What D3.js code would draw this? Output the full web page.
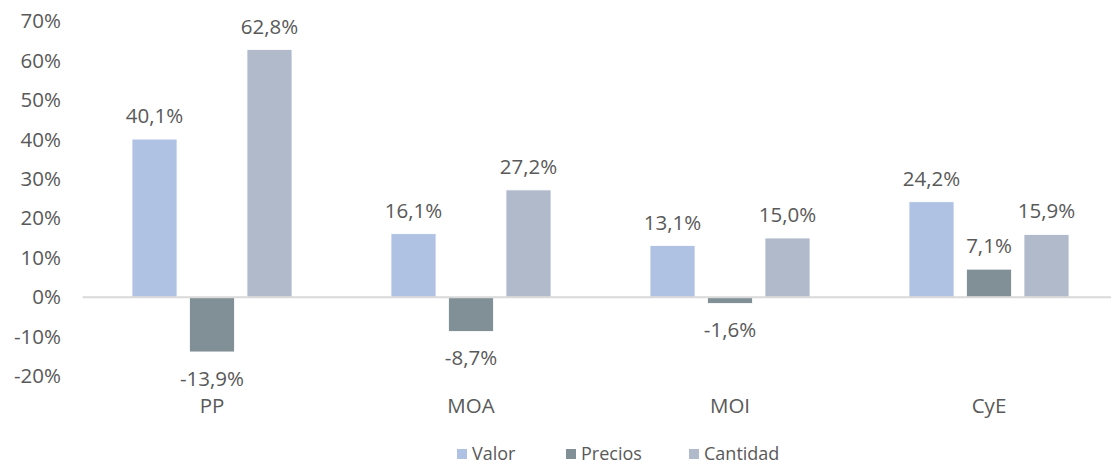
<!DOCTYPE html>
<html>
<head>
<meta charset="utf-8">
<script src="https://cdn.jsdelivr.net/npm/d3@7"></script>
<style>
  body { margin: 0; background: #fff; }
  text { font-family: "Open Sans", sans-serif; fill: #595959; }
</style>
</head>
<body>
<script>
  const categories = ['PP', 'MOA', 'MOI', 'CyE'];
  const seriesNames = ['Valor', 'Precios', 'Cantidad'];
  const valor = [40.1, 16.1, 13.1, 24.2];
  const precios = [-13.9, -8.7, -1.6, 7.1];
  const cantidad = [62.8, 27.2, 15.0, 15.9];
  const yTicks = [-20, -10, 0, 10, 20, 30, 40, 50, 60, 70];
  const colors = ['#afc2e3', '#818f96', '#b0bacb'];

  const width = 1111;
  const height = 466;

  const seriesValues = [valor, precios, cantidad];
  const rows = categories.map((c, i) => ({
    cat: c,
    vals: seriesNames.map((s, j) => ({ series: s, j, value: seriesValues[j][i] })),
  }));

  const svg = d3.select('body')
    .append('svg')
    .attr('width', width)
    .attr('height', height);

  // band per category, then sub-band per series
  const x = d3.scaleBand()
    .domain(categories)
    .range([82.5, 1118.5]);

  const xSub = d3.scaleBand()
    .domain(seriesNames)
    .range([0, 160])
    .paddingInner(0.217);

  const y = d3.scaleLinear()
    .domain([-20, 70])
    .range([376, 21.2]);

  // comma decimals, plain hyphen for negatives
  const fmt = (v) => v.toFixed(1).replace('.', ',') + '%';

  // y tick labels
  svg.append('g')
    .selectAll('text')
    .data(yTicks)
    .join('text')
    .attr('x', 61)
    .attr('y', (d) => y(d))
    .attr('dy', '0.35em')
    .attr('text-anchor', 'end')
    .style('font-size', '20.5px')
    .text((d) => d + '%');

  const groups = svg.append('g')
    .selectAll('g')
    .data(rows)
    .join('g')
    .attr('transform', (d) => `translate(${x(d.cat) + x.bandwidth() / 2 - 80},0)`);

  groups.selectAll('rect')
    .data((d) => d.vals)
    .join('rect')
    .attr('x', (d) => xSub(d.series))
    .attr('width', xSub.bandwidth())
    .attr('y', (d) => y(Math.max(0, d.value)))
    .attr('height', (d) => Math.abs(y(d.value) - y(0)))
    .attr('fill', (d) => colors[d.j])
    .attr('stroke', '#ffffff')
    .attr('stroke-width', 0.8);

  // zero line
  svg.append('line')
    .attr('x1', x.range()[0])
    .attr('x2', width)
    .attr('y1', y(0))
    .attr('y2', y(0))
    .attr('stroke', '#d9d9d9')
    .attr('stroke-width', 2);

  // value labels
  groups.selectAll('text.val')
    .data((d) => d.vals)
    .join('text')
    .attr('class', 'val')
    .attr('x', (d) => xSub(d.series) + xSub.bandwidth() / 2)
    .attr('y', (d) => d.value >= 0 ? y(d.value) - 16 : y(d.value) + 34)
    .attr('text-anchor', 'middle')
    .style('font-size', '20.5px')
    .text((d) => fmt(d.value));

  // category labels
  svg.append('g')
    .selectAll('text')
    .data(categories)
    .join('text')
    .attr('x', (d) => x(d) + x.bandwidth() / 2)
    .attr('y', 413)
    .attr('text-anchor', 'middle')
    .style('font-size', '20.5px')
    .text((d) => d);

  // legend
  const legendX = [457, 566, 689];
  const legend = svg.append('g')
    .selectAll('g')
    .data(seriesNames)
    .join('g')
    .attr('transform', (d, i) => `translate(${legendX[i]},454)`);

  legend.append('rect')
    .attr('x', 0)
    .attr('y', -5)
    .attr('width', 10)
    .attr('height', 10)
    .attr('fill', (d, i) => colors[i]);

  legend.append('text')
    .attr('x', 15)
    .attr('y', 0)
    .attr('dy', '0.35em')
    .style('font-size', '18px')
    .text((d) => d);
</script>
</body>
</html>
